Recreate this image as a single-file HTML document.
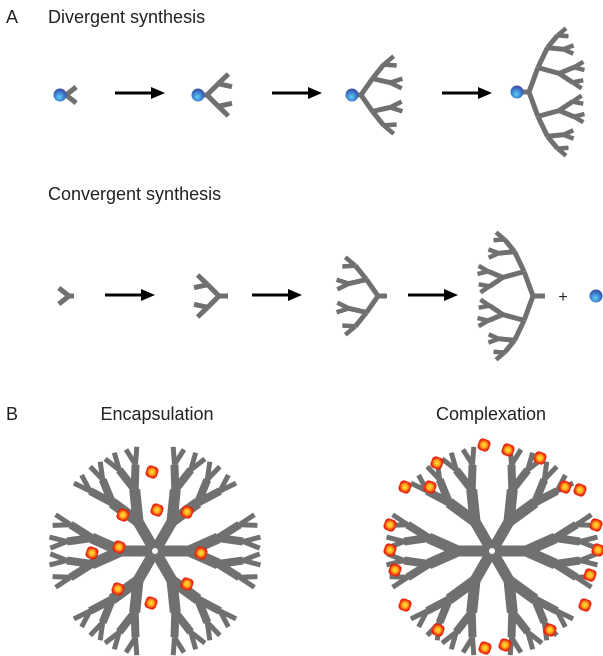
<!DOCTYPE html>
<html><head><meta charset="utf-8"><style>
html,body{margin:0;padding:0;background:#fff;width:603px;height:656px;overflow:hidden}
svg{display:block}
text{font-family:"Liberation Sans",sans-serif;fill:#222}
</style></head><body>
<svg id="s" width="603" height="656" viewBox="0 0 603 656" xmlns="http://www.w3.org/2000/svg">
<defs>
<radialGradient id="ball" cx="0.45" cy="0.65" r="0.6">
<stop offset="0" stop-color="#5fd0f0"/><stop offset="0.6" stop-color="#3d7fd0"/><stop offset="1" stop-color="#3a4fa0"/>
</radialGradient>
<radialGradient id="gst" cx="0.5" cy="0.5" r="0.5">
<stop offset="0" stop-color="#ffe23a"/><stop offset="0.45" stop-color="#ffb020"/><stop offset="0.8" stop-color="#f04010"/><stop offset="1" stop-color="#e02010"/>
</radialGradient>
</defs>
<text x="6" y="23" font-size="18">A</text>
<text x="48" y="23" font-size="18">Divergent synthesis</text>
<text x="48" y="200" font-size="18">Convergent synthesis</text>
<text x="6" y="420" font-size="18">B</text>
<text x="157" y="420" font-size="18" text-anchor="middle">Encapsulation</text>
<text x="491" y="420" font-size="18" text-anchor="middle">Complexation</text>
<text x="563" y="302" font-size="16" text-anchor="middle">+</text>
<g id="g"></g>
</svg>
<script>
var g=document.getElementById('g'),out='';
function ln(x1,y1,x2,y2,w,c){out+='<line x1="'+x1.toFixed(1)+'" y1="'+y1.toFixed(1)+'" x2="'+x2.toFixed(1)+'" y2="'+y2.toFixed(1)+'" stroke="'+(c||'#707070')+'" stroke-width="'+w+'"/>';}
var D=Math.PI/180;
function split(x,y,a0,rel,sp,ls,ws,i,k){if(i>=sp.length)return;[-1,1].forEach(function(s){var r=(i==0?0:rel*k)+s*sp[i];var b=(a0+r)*D;var x2=x+ls[i]*Math.cos(b),y2=y+ls[i]*Math.sin(b);ln(x,y,x2,y2,ws[i]);split(x2,y2,a0,r,sp,ls,ws,i+1,k);});}
function tree(x,y,a,stem,sp,ls,ws,k){var r=a*D;var x2=x+stem*Math.cos(r),y2=y+stem*Math.sin(r);if(stem>0)ln(x,y,x2,y2,ws[0]);split(x2,y2,a,0,sp,ls,ws,0,k);}
function ball(x,y){out+='<circle cx="'+x+'" cy="'+y+'" r="6.5" fill="url(#ball)"/>';}
function arrow(x1,x2,y){ln(x1,y,x2-12,y,3,'#000');out+='<path d="M'+(x2-14)+','+(y-6)+' L'+x2+','+y+' L'+(x2-14)+','+(y+6)+' Z" fill="#000"/>';}
var K=0.35;
tree(60,95,0,6,[38],[13],[5],K);ball(60,95);
tree(198,95,0,9,[45,28],[16,14],[5,5],K);ball(198,95);
tree(352,95,0,9,[55,32,22],[20,18,13],[5,5,4.5],K);ball(352,95);
tree(517,92,0,12,[70,40,28,22],[26,22,16,11],[5,5,5,4.5],K);ball(517,92);
arrow(115,165,93);arrow(272,322,93);arrow(442,492,93);
tree(74,296,180,5,[38],[13],[5],K);
tree(228,296,180,9,[45,28],[16,14],[5,5],K);
tree(387,296,180,9,[55,32,22],[20,18,13],[5,5,4.5],K);
tree(545,296,180,12,[70,40,28,22],[26,22,16,11],[5,5,5,4.5],K);
ball(596,296);
arrow(105,155,295);arrow(252,302,295);arrow(408,458,295);
function dend(cx,cy){for(var j=0;j<6;j++){var a=-60+j*60;tree(cx,cy,a,34,[24,20,18],[32,25,18],[11,8,5],0.5);}
ln(cx-10,cy,cx+32,cy,10);out+='<circle cx="'+cx+'" cy="'+cy+'" r="3" fill="#fff"/>';}
dend(155,551);dend(492,551);
function guest(x,y){out+='<rect x="'+(x-6)+'" y="'+(y-6)+'" width="12" height="12" rx="4" fill="url(#gst)" transform="rotate(20 '+x+' '+y+')"/>';}
[[152,472],[157,510],[123,515],[187,512],[92,553],[119,547],[201,553],[118,589],[187,584],[151,603]].forEach(function(p){guest(p[0],p[1]);});
[[484,445],[508,450],[437,463],[540,458],[405,487],[430,487],[565,487],[580,490],[390,525],[596,525],[390,550],[598,550],[395,570],[590,575],[405,605],[585,605],[438,630],[550,630],[485,648],[505,645]].forEach(function(p){guest(p[0],p[1]);});
g.innerHTML=out;
</script>
</body></html>
